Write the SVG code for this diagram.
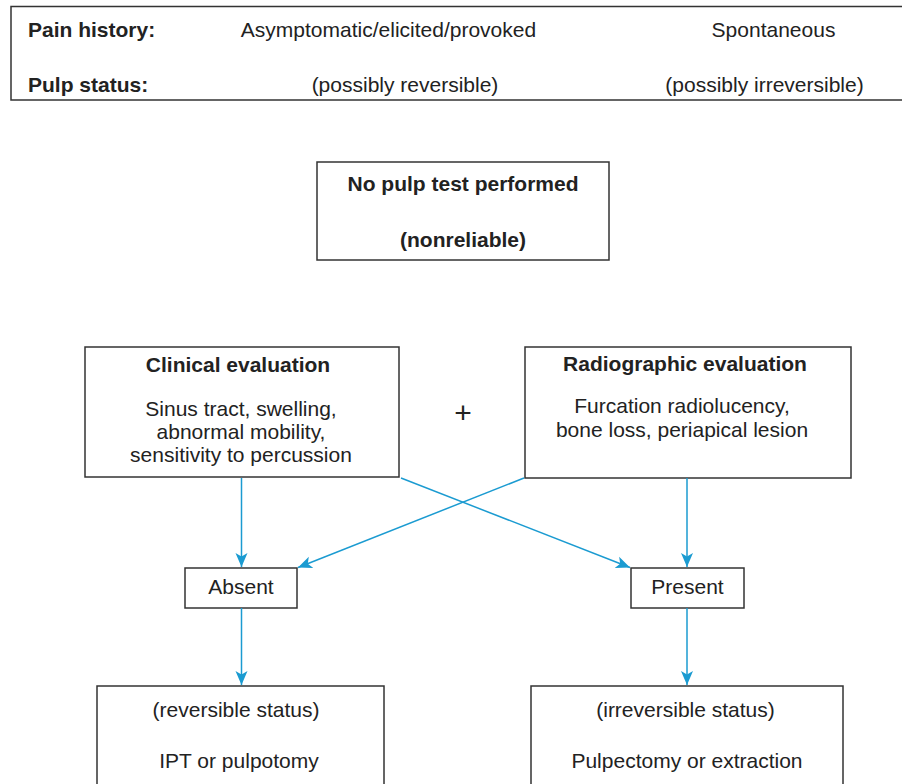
<svg xmlns="http://www.w3.org/2000/svg" width="902" height="784" viewBox="0 0 902 784">
  <style>
    text { font-family: "Liberation Sans", Arial, Helvetica, sans-serif; font-size: 21px; fill: #222; }
    .b { font-weight: bold; }
    .m { text-anchor: middle; }
    .box { fill: #fff; stroke: #333; stroke-width: 1.5; }
    .rule { stroke: #333; stroke-width: 1.5; fill: none; }
    .link { stroke: #1b9bd1; stroke-width: 1.5; fill: none; marker-end: url(#arrow); }
  </style>
  <defs>
    <marker id="arrow" markerUnits="userSpaceOnUse" markerWidth="15" markerHeight="13" refX="14" refY="6.5" orient="auto">
      <path d="M0,0.5 L14,6.5 L0,12.5 L3.5,6.5 z" fill="#1b9bd1"/>
    </marker>
  </defs>
  <rect width="902" height="784" fill="#fff"/>

  <!-- header table -->
  <g id="header">
    <path class="rule" d="M902,6.5 H11 V100 H902"/>
    <text class="b" x="28" y="37">Pain history:</text>
    <text class="m" x="388.5" y="37">Asymptomatic/elicited/provoked</text>
    <text class="m" x="773.5" y="37">Spontaneous</text>
    <text class="b" x="28" y="92">Pulp status:</text>
    <text class="m" x="405" y="92">(possibly reversible)</text>
    <text class="m" x="764.5" y="92">(possibly irreversible)</text>
  </g>

  <g id="no-pulp-test">
    <rect class="box" x="317" y="162" width="292" height="98"/>
    <text class="b m" x="463" y="191">No pulp test performed</text>
    <text class="b m" x="463" y="247">(nonreliable)</text>
  </g>

  <g id="clinical">
    <rect class="box" x="85" y="347" width="314" height="130"/>
    <text class="b m" x="238" y="372">Clinical evaluation</text>
    <text class="m" x="241" y="416">Sinus tract, swelling,</text>
    <text class="m" x="241" y="439">abnormal mobility,</text>
    <text class="m" x="241" y="462">sensitivity to percussion</text>
  </g>

  <g id="plus">
    <text class="m" x="463" y="423" style="font-size:30px">+</text>
  </g>

  <g id="radiographic">
    <rect class="box" x="525" y="347" width="326" height="131"/>
    <text class="b m" x="685" y="371">Radiographic evaluation</text>
    <text class="m" x="682" y="413">Furcation radiolucency,</text>
    <text class="m" x="682" y="437">bone loss, periapical lesion</text>
  </g>

  <g id="absent">
    <rect class="box" x="185" y="568" width="112" height="40"/>
    <text class="m" x="241" y="594">Absent</text>
  </g>

  <g id="present">
    <rect class="box" x="631" y="568" width="113" height="40"/>
    <text class="m" x="687.5" y="594">Present</text>
  </g>

  <g id="reversible">
    <rect class="box" x="97" y="686" width="287" height="110"/>
    <text class="m" x="236" y="717">(reversible status)</text>
    <text class="m" x="239" y="768">IPT or pulpotomy</text>
  </g>

  <g id="irreversible">
    <rect class="box" x="531" y="686" width="312" height="110"/>
    <text class="m" x="685.5" y="717">(irreversible status)</text>
    <text class="m" x="687" y="768">Pulpectomy or extraction</text>
  </g>

  <g id="connectors">
    <line class="link" x1="241.5" y1="478" x2="241.5" y2="567"/>
    <line class="link" x1="687" y1="478" x2="687" y2="567"/>
    <line class="link" x1="401" y1="478" x2="630" y2="567.5"/>
    <line class="link" x1="524" y1="478" x2="298" y2="567.5"/>
    <line class="link" x1="241.5" y1="608" x2="241.5" y2="685"/>
    <line class="link" x1="687" y1="608" x2="687" y2="685"/>
  </g>
</svg>
